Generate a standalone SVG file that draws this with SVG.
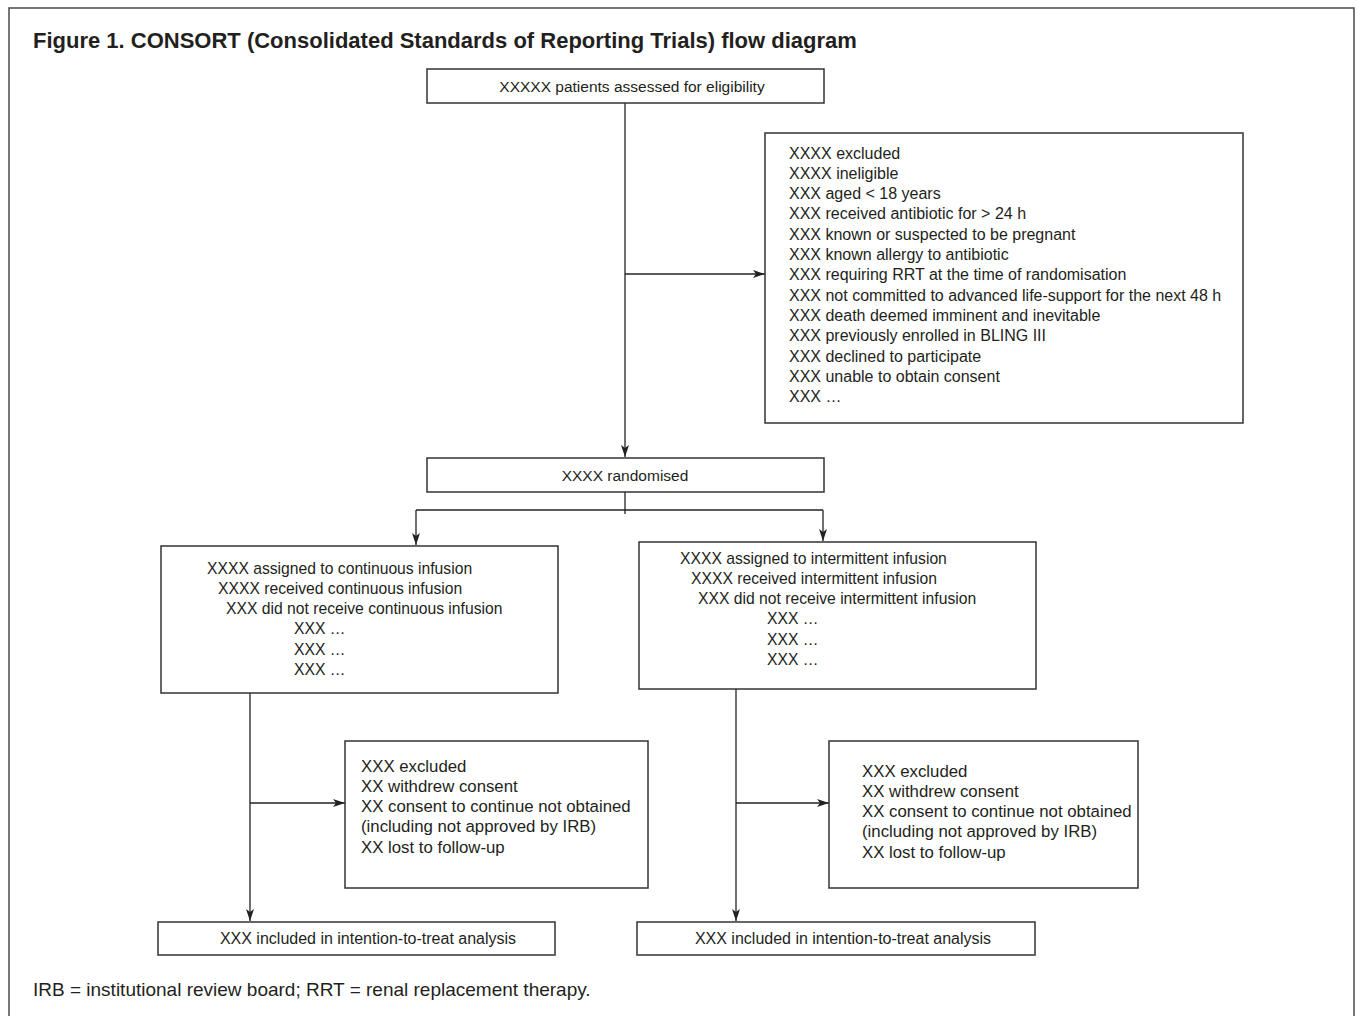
<svg xmlns="http://www.w3.org/2000/svg" width="1357" height="1016" viewBox="0 0 1357 1016">
<defs>
<style>
.box{fill:#fff;stroke:#333;stroke-width:1.5}
.ln{fill:none;stroke:#222;stroke-width:1.3}
.t{font-family:"Liberation Sans",Arial,sans-serif;font-size:16px;fill:#231f20}
.tc{text-anchor:middle}
.title{font-family:"Liberation Sans",Arial,sans-serif;font-size:22px;font-weight:bold;fill:#231f20}
.foot{font-family:"Liberation Sans",Arial,sans-serif;font-size:19px;fill:#231f20}
</style>
<marker id="ah" viewBox="0 0 12 8" refX="12" refY="4" markerWidth="12" markerHeight="8" markerUnits="userSpaceOnUse" orient="auto">
<path d="M0,0 L12,4 L0,8 L3,4 z" fill="#222"/>
</marker>
</defs>
<rect x="0" y="0" width="1357" height="1016" fill="#fff"/>
<rect x="9" y="8" width="1345" height="1030" fill="none" stroke="#555" stroke-width="1.6"/>
<text class="title" x="33" y="48">Figure 1. CONSORT (Consolidated Standards of Reporting Trials) flow diagram</text>

<g id="connectors">
<line class="ln" x1="625" y1="103" x2="625" y2="457" marker-end="url(#ah)"/>
<line class="ln" x1="625" y1="274" x2="765" y2="274" marker-end="url(#ah)"/>
<line class="ln" x1="625" y1="492" x2="625" y2="514"/>
<line class="ln" x1="416" y1="510" x2="823" y2="510"/>
<line class="ln" x1="416" y1="510" x2="416" y2="545" marker-end="url(#ah)"/>
<line class="ln" x1="823" y1="510" x2="823" y2="541" marker-end="url(#ah)"/>
<line class="ln" x1="250" y1="693" x2="250" y2="921" marker-end="url(#ah)"/>
<line class="ln" x1="250" y1="803" x2="345" y2="803" marker-end="url(#ah)"/>
<line class="ln" x1="736" y1="689" x2="736" y2="921" marker-end="url(#ah)"/>
<line class="ln" x1="736" y1="803" x2="829" y2="803" marker-end="url(#ah)"/>
</g>

<g id="assessed">
<rect class="box" x="427" y="69" width="397" height="34"/>
<text class="t tc" x="632" y="92" style="font-size:15.5px">XXXXX patients assessed for eligibility</text>
</g>

<g id="excluded">
<rect class="box" x="765" y="133" width="478" height="290"/>
<text class="t" x="789" y="158.5">XXXX excluded</text>
<text class="t" x="789" y="178.8">XXXX ineligible</text>
<text class="t" x="789" y="199.1">XXX aged &lt; 18 years</text>
<text class="t" x="789" y="219.4">XXX received antibiotic for &gt; 24 h</text>
<text class="t" x="789" y="239.7">XXX known or suspected to be pregnant</text>
<text class="t" x="789" y="260">XXX known allergy to antibiotic</text>
<text class="t" x="789" y="280.3">XXX requiring RRT at the time of randomisation</text>
<text class="t" x="789" y="300.6">XXX not committed to advanced life-support for the next 48 h</text>
<text class="t" x="789" y="320.9">XXX death deemed imminent and inevitable</text>
<text class="t" x="789" y="341.2">XXX previously enrolled in BLING III</text>
<text class="t" x="789" y="361.5">XXX declined to participate</text>
<text class="t" x="789" y="381.8">XXX unable to obtain consent</text>
<text class="t" x="789" y="402.1">XXX …</text>
</g>

<g id="randomised">
<rect class="box" x="427" y="458" width="397" height="34"/>
<text class="t tc" x="625" y="481" style="font-size:15.5px">XXXX randomised</text>
</g>

<g id="continuous">
<rect class="box" x="161" y="546" width="397" height="147"/>
<text class="t" x="207" y="573.5" style="font-size:15.7px">XXXX assigned to continuous infusion</text>
<text class="t" x="218" y="593.8" style="font-size:15.7px">XXXX received continuous infusion</text>
<text class="t" x="226" y="614.1" style="font-size:15.7px">XXX did not receive continuous infusion</text>
<text class="t" x="294" y="634.4" style="font-size:15.7px">XXX …</text>
<text class="t" x="294" y="654.7" style="font-size:15.7px">XXX …</text>
<text class="t" x="294" y="675" style="font-size:15.7px">XXX …</text>
</g>

<g id="intermittent">
<rect class="box" x="639" y="542" width="397" height="147"/>
<text class="t" x="680" y="563.5" style="font-size:15.7px">XXXX assigned to intermittent infusion</text>
<text class="t" x="691" y="583.8" style="font-size:15.7px">XXXX received intermittent infusion</text>
<text class="t" x="698" y="604.1" style="font-size:15.7px">XXX did not receive intermittent infusion</text>
<text class="t" x="767" y="624.4" style="font-size:15.7px">XXX …</text>
<text class="t" x="767" y="644.7" style="font-size:15.7px">XXX …</text>
<text class="t" x="767" y="665" style="font-size:15.7px">XXX …</text>
</g>

<g id="excluded-left">
<rect class="box" x="345" y="741" width="303" height="147"/>
<text class="t" x="361" y="771.5" style="font-size:16.8px">XXX excluded</text>
<text class="t" x="361" y="791.8" style="font-size:16.8px">XX withdrew consent</text>
<text class="t" x="361" y="812.1" style="font-size:16.8px">XX consent to continue not obtained</text>
<text class="t" x="361" y="832.4" style="font-size:16.8px">(including not approved by IRB)</text>
<text class="t" x="361" y="852.7" style="font-size:16.8px">XX lost to follow-up</text>
</g>

<g id="excluded-right">
<rect class="box" x="829" y="741" width="309" height="147"/>
<text class="t" x="862" y="776.5" style="font-size:16.8px">XXX excluded</text>
<text class="t" x="862" y="796.8" style="font-size:16.8px">XX withdrew consent</text>
<text class="t" x="862" y="817.1" style="font-size:16.8px">XX consent to continue not obtained</text>
<text class="t" x="862" y="837.4" style="font-size:16.8px">(including not approved by IRB)</text>
<text class="t" x="862" y="857.7" style="font-size:16.8px">XX lost to follow-up</text>
</g>

<g id="itt-left">
<rect class="box" x="158" y="922" width="397" height="33"/>
<text class="t tc" x="368" y="944">XXX included in intention-to-treat analysis</text>
</g>

<g id="itt-right">
<rect class="box" x="637" y="922" width="398" height="33"/>
<text class="t tc" x="843" y="944">XXX included in intention-to-treat analysis</text>
</g>

<text class="foot" x="33" y="996">IRB = institutional review board; RRT = renal replacement therapy.</text>
</svg>
